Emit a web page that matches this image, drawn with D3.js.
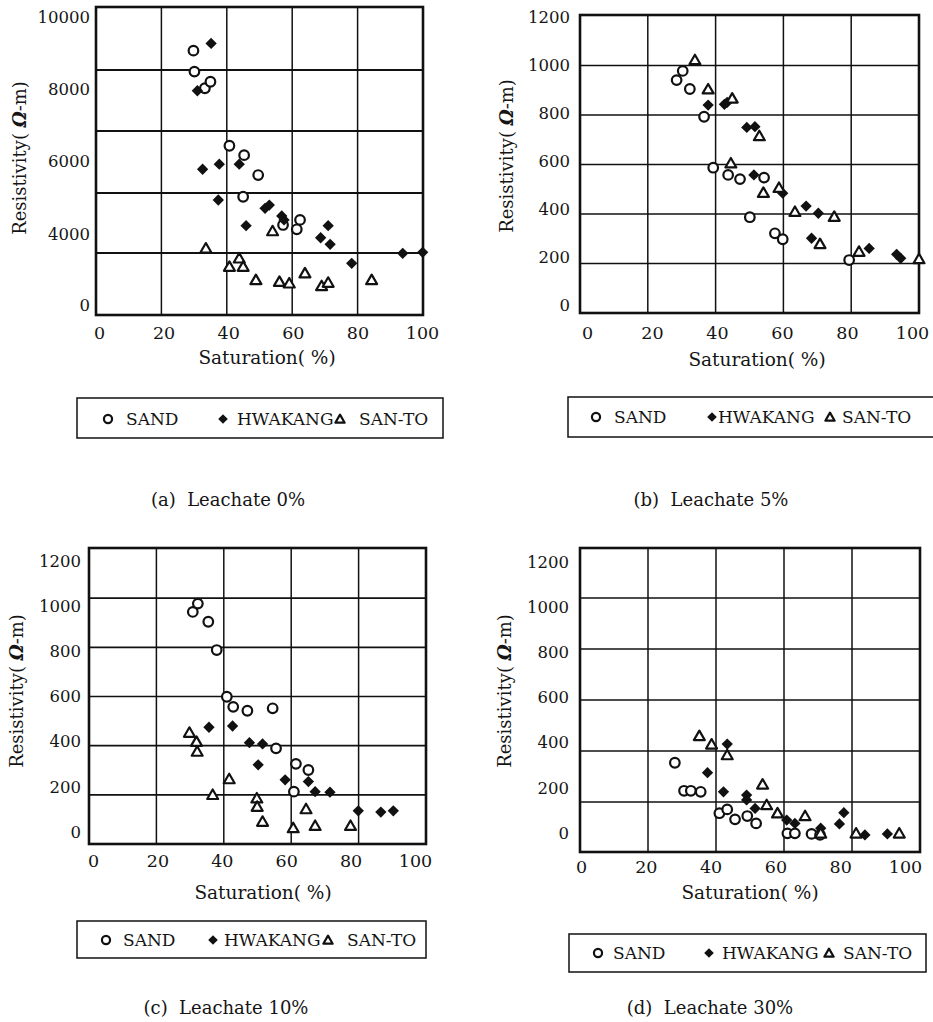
<!DOCTYPE html>
<html><head><meta charset="utf-8">
<script src="https://cdn.jsdelivr.net/npm/d3@7"></script>
<style>
body{margin:0;background:#fff}
svg text{font-family:"DejaVu Serif",serif;fill:#151515}
</style></head><body>
<svg id="chart" width="933" height="1022"></svg>
<script>
// ---------- data ----------
const seriesNames = ["SAND", "HWAKANG", "SAN-TO"];
const xTicks = [0, 20, 40, 60, 80, 100];
const xGrid = [20, 40, 60, 80];
const yTicksA = [0, 4000, 6000, 8000, 10000];
const yGridA = [2930, 5134, 6848, 8535];
const yTicksBCD = [0, 200, 400, 600, 800, 1000, 1200];
const yGridBCD = [200, 400, 600, 800, 1000];
const captions = ["(a)  Leachate 0%", "(b)  Leachate 5%", "(c)  Leachate 10%", "(d)  Leachate 30%"];
const xTitle = "Saturation( %)";

// [saturation %, resistivity ohm-m]
const sandA = [[29.8,9070],[30.1,8490],[33.3,8030],[35.0,8210],[40.8,6440],[45.3,6180],[49.6,5630],[45.0,5030],[57.2,4250],[62.4,4390],[61.4,4130]];
const hwakangA = [[35.2,9270],[31.0,7960],[32.6,5790],[37.7,5930],[43.8,5930],[37.4,4940],[45.9,4230],[51.7,4710],[53.0,4800],[56.8,4500],[57.5,4390],[68.7,3790],[71.0,4230],[71.6,3420],[78.2,2350],[93.8,2910],[99.9,2970]];
const santoA = [[33.6,3190],[54.0,4080],[40.8,2160],[43.8,2630],[45.0,2160],[48.9,1410],[56.1,1310],[59.1,1220],[63.9,1790],[69.0,1070],[71.0,1260],[84.3,1410]];

const sandB = [[28.5,941],[30.3,978],[32.4,905],[36.6,793],[39.3,587],[43.7,558],[47.2,541],[54.3,547],[50.1,387],[57.5,322],[59.8,298],[79.4,214]];
const hwakangB = [[37.8,840],[42.6,843],[43.4,851],[49.2,750],[51.6,753],[51.3,558],[59.8,484],[66.7,432],[70.3,403],[68.3,302],[85.3,261],[93.4,237],[94.6,221]];
const santoB = [[33.9,1022],[37.8,904],[44.9,867],[52.9,715],[44.5,605],[54.1,486],[58.7,506],[63.4,409],[75.0,389],[70.8,279],[82.3,248],[100,218]];

const sandC = [[30.8,944],[32.3,978],[35.4,904],[37.9,789],[40.9,599],[42.8,558],[47.0,542],[54.5,552],[55.5,389],[61.4,326],[65.1,301],[60.8,213]];
const hwakangC = [[35.6,475],[42.6,480],[47.6,412],[51.5,407],[50.2,322],[58.2,261],[65.1,254],[67.1,213],[71.5,211],[79.9,135],[86.6,130],[90.3,135]];
const santoC = [[29.8,453],[31.9,416],[32.1,376],[36.7,200],[41.6,264],[49.8,186],[49.9,152],[51.5,91],[64.4,142],[60.6,65],[67.1,74],[77.6,74]];

const sandD = [[27.9,354],[30.6,244],[32.6,244],[35.5,240],[41.0,156],[43.3,171],[45.6,132],[49.2,145],[51.8,116],[61.0,77],[63.2,77],[68.1,75],[70.6,71]];
const hwakangD = [[43.3,427],[37.5,315],[42.2,240],[49.0,227],[49.0,208],[51.5,175],[60.8,129],[63.2,116],[70.8,97],[76.3,114],[77.6,158],[83.8,71],[90.4,75]];
const santoD = [[35.1,459],[38.7,426],[43.3,384],[53.7,269],[54.9,188],[58.1,156],[66.2,145],[70.8,77],[81.2,77],[93.9,77]];

// ---------- layout ----------
const panels = [
  { series:[sandA,hwakangA,santoA], yTicks:yTicksA, yGrid:yGridA,
    frame:{l:96,r:423,t:7,b:315}, yDomain:[0,4000,10000], yRange:[305,234,17], labelRange:null,
    xLabelRange:[99,422], yPad:6, xPad:12, gridW:2.2, yTitle:[20,158], xTitleP:[267,358],
    legend:{x0:77,x1:443,y0:398,y1:438,cy:419,items:[[108,126],[223,237],[340,359]]}, caption:[228,500] },
  { series:[sandB,hwakangB,santoB], yTicks:yTicksBCD, yGrid:yGridBCD,
    frame:{l:580,r:919,t:15,b:313}, yDomain:[0,1200], yRange:[313,16], labelRange:[305,17],
    xLabelRange:[587,912], yPad:10, xPad:14, gridW:1.6, yTitle:[507,156], xTitleP:[757,360],
    legend:{x0:568,x1:945,y0:397,y1:437,cy:417,items:[[596,614],[712,718],[830,842]]}, caption:[711,500] },
  { series:[sandC,hwakangC,santoC], yTicks:yTicksBCD, yGrid:yGridBCD,
    frame:{l:89,r:426,t:548,b:844}, yDomain:[0,1200], yRange:[844,549], labelRange:[832,561],
    xLabelRange:[93,415], yPad:8, xPad:11, gridW:1.6, yTitle:[17,691], xTitleP:[263,893],
    legend:{x0:77,x1:426,y0:921,y1:958,cy:940,items:[[106,123],[213,224],[328,347]]}, caption:[226,1008] },
  { series:[sandD,hwakangD,santoD], yTicks:yTicksBCD, yGrid:yGridBCD,
    frame:{l:580,r:920,t:548,b:852}, yDomain:[0,1200], yRange:[853,547], labelRange:[833,562],
    xLabelRange:[581,905], yPad:11, xPad:9, gridW:1.6, yTitle:[505,691], xTitleP:[750,893],
    legend:{x0:569,x1:926,y0:934,y1:972,cy:953,items:[[598,613],[709,722],[829,843]]}, caption:[710,1008] }
];

const svg = d3.select("#chart");

function drawMarker(g, type, x, y, s) {
  if (type === 0) {
    g.append("circle").attr("cx", x).attr("cy", y).attr("r", 4.8 * s)
      .attr("fill", "#fff").attr("stroke", "#111").attr("stroke-width", 2.2);
  } else if (type === 1) {
    g.append("path").attr("d", d3.symbol(d3.symbolSquare, 64 * s * s)())
      .attr("transform", `translate(${x},${y}) rotate(45)`).attr("fill", "#111");
  } else {
    g.append("path").attr("d", d3.symbol(d3.symbolTriangle, 52 * s * s)())
      .attr("transform", `translate(${x},${y + 1})`)
      .attr("fill", "#fff").attr("stroke", "#111").attr("stroke-width", 2.2).attr("stroke-linejoin", "round");
  }
}

panels.forEach((p, i) => {
  const f = p.frame;
  const g = svg.append("g");
  const x = d3.scaleLinear().domain([0, 100]).range([f.l, f.r]);
  const xLab = d3.scaleLinear().domain([0, 100]).range(p.xLabelRange);
  const y = d3.scaleLinear().domain(p.yDomain).range(p.yRange);
  const yLab = p.labelRange ? d3.scaleLinear().domain([0, 1200]).range(p.labelRange) : y;

  // grid
  g.append("g").selectAll("line").data(p.yGrid).join("line")
    .attr("x1", f.l).attr("x2", f.r).attr("y1", d => y(d)).attr("y2", d => y(d))
    .attr("stroke", "#111").attr("stroke-width", p.gridW);
  g.append("g").selectAll("line").data(xGrid).join("line")
    .attr("x1", d => x(d)).attr("x2", d => x(d)).attr("y1", f.t).attr("y2", f.b)
    .attr("stroke", "#111").attr("stroke-width", 1.5);
  // frame
  g.append("rect").attr("x", f.l).attr("y", f.t).attr("width", f.r - f.l).attr("height", f.b - f.t)
    .attr("fill", "none").attr("stroke", "#111").attr("stroke-width", 2.6);

  // axes
  const ya = g.append("g").attr("transform", `translate(${f.l},0)`)
    .call(d3.axisLeft(yLab).tickValues(p.yTicks).tickSize(0).tickPadding(p.yPad).tickFormat(d3.format("d")));
  ya.select(".domain").remove();
  ya.selectAll("text").attr("font-family", "DejaVu Serif").attr("font-size", 16.5).attr("fill", "#222");

  const xa = g.append("g").attr("transform", `translate(0,${f.b})`)
    .call(d3.axisBottom(xLab).tickValues(xTicks).tickSize(0).tickPadding(p.xPad));
  xa.select(".domain").remove();
  xa.selectAll("text").attr("font-family", "Liberation Serif").attr("font-size", 17.5).attr("fill", "#222");

  // titles
  const yt = g.append("text").attr("transform", `translate(${p.yTitle[0]},${p.yTitle[1]}) rotate(-90)`)
    .attr("text-anchor", "middle").attr("dy", "0.35em").attr("font-size", 18).style("white-space", "pre");
  yt.append("tspan").text("Resistivity( ");
  yt.append("tspan").attr("font-weight", "bold").attr("font-style", "italic").text("Ω");
  yt.append("tspan").text("-m)");

  g.append("text").attr("x", p.xTitleP[0]).attr("y", p.xTitleP[1]).attr("dy", "0.35em")
    .attr("text-anchor", "middle").attr("font-size", 18.5).style("white-space", "pre").text(xTitle);

  // points
  const pts = g.append("g");
  p.series.forEach((s, k) => {
    s.forEach(d => drawMarker(pts, k, x(d[0]), y(d[1]), 1));
  });

  // legend
  const L = p.legend;
  g.append("rect").attr("x", L.x0).attr("y", L.y0).attr("width", L.x1 - L.x0).attr("height", L.y1 - L.y0)
    .attr("fill", "none").attr("stroke", "#111").attr("stroke-width", 1.5);
  seriesNames.forEach((n, k) => {
    drawMarker(g, k, L.items[k][0], L.cy, 0.85);
    g.append("text").attr("x", L.items[k][1]).attr("y", L.cy).attr("dy", "0.36em")
      .attr("font-size", 17).text(n);
  });

  // caption
  g.append("text").attr("x", p.caption[0]).attr("y", p.caption[1]).attr("dy", "0.35em")
    .attr("text-anchor", "middle").attr("font-size", 18).style("white-space", "pre").text(captions[i]);
});
</script>
</body></html>
